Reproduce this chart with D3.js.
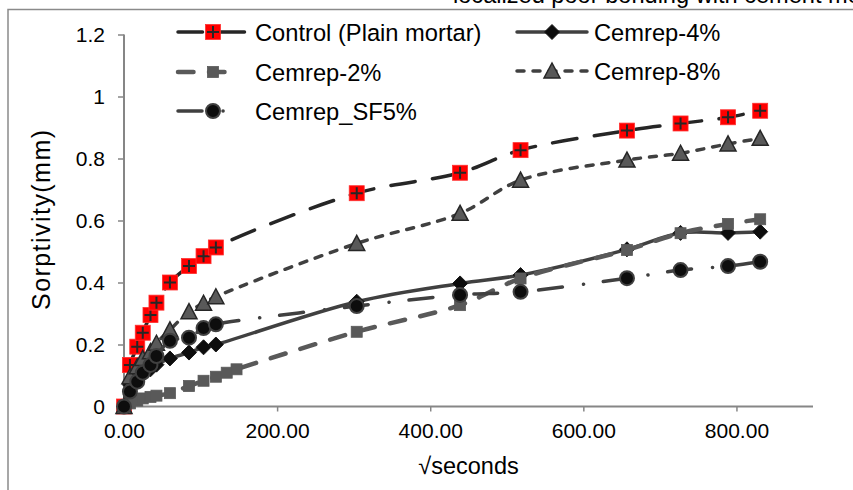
<!DOCTYPE html>
<html>
<head>
<meta charset="utf-8">
<script src="https://cdn.jsdelivr.net/npm/d3@7"></script>
<style>
  body { margin: 0; background: #fff; }
  svg { display: block; font-family: "Liberation Sans", Arial, sans-serif; }
</style>
</head>
<body>
<div class="chart"></div>
<script>
// sqrt(seconds) readings
var tMain = [0, 7.75, 17.3, 24.5, 34.6, 42.4, 60, 84.9, 103.9, 120, 304, 439, 518, 657, 727, 789, 831];
var t2 = [0, 7.75, 17.3, 24.5, 34.6, 42.4, 60, 84.9, 103.9, 120, 134.2, 147, 304, 439, 518, 657, 727, 789, 831];

var control = [0, 0.134, 0.193, 0.238, 0.295, 0.335, 0.40, 0.453, 0.485, 0.513, 0.688, 0.754, 0.827, 0.89, 0.913, 0.933, 0.954];
var cem4 = [0, 0.07, 0.09, 0.105, 0.12, 0.135, 0.155, 0.174, 0.191, 0.2, 0.338, 0.397, 0.424, 0.507, 0.56, 0.56, 0.564];
var cem2 = [0, 0.01, 0.019, 0.026, 0.031, 0.035, 0.043, 0.066, 0.083, 0.096, 0.109, 0.12, 0.241, 0.327, 0.413, 0.505, 0.559, 0.589, 0.604];
var cem8 = [0, 0.096, 0.128, 0.155, 0.177, 0.204, 0.247, 0.306, 0.333, 0.354, 0.526, 0.623, 0.73, 0.795, 0.817, 0.847, 0.865];
var sf5 = [0, 0.048, 0.08, 0.109, 0.134, 0.163, 0.212, 0.222, 0.253, 0.265, 0.324, 0.36, 0.37, 0.414, 0.44, 0.453, 0.467];

var xTicks = [0, 200, 400, 600, 800];
var yTicks = [0, 0.2, 0.4, 0.6, 0.8, 1, 1.2];

var width = 853, height = 490;

var x = d3.scaleLinear().domain([0, 900]).range([124, 813]);
var y = d3.scaleLinear().domain([0, 1.2]).range([406.5, 34.5]);

var svg = d3.select('.chart').append('svg')
    .attr('width', width)
    .attr('height', height);

// clipped caption from the page above
svg.append('text')
    .attr('x', 453).attr('y', 3)
    .style('font-size', '23.6px')
    .text('localized poor bonding with cement mortar');

// outer chart border
svg.append('rect')
    .attr('x', 8).attr('y', 9.5)
    .attr('width', 900).attr('height', 600)
    .attr('fill', 'none')
    .attr('stroke', '#8a8a8a')
    .attr('stroke-width', 1.5);

// axes
var xAxis = d3.axisBottom(x).tickValues(xTicks).tickSize(5).tickPadding(12)
    .tickFormat(function (d) { return d.toFixed(2); });
var yAxis = d3.axisLeft(y).tickValues(yTicks).tickSize(6).tickPadding(13)
    .tickFormat(function (d) { return d3.format('~g')(d); });

var gx = svg.append('g').attr('transform', 'translate(0,' + y(0) + ')').call(xAxis);
var gy = svg.append('g').attr('transform', 'translate(' + x(0) + ',0)').call(yAxis);

[gx, gy].forEach(function (g) {
    g.select('.domain').attr('stroke', '#868686').attr('stroke-width', 2);
    g.selectAll('.tick line').attr('stroke', '#868686').attr('stroke-width', 1.5);
    g.selectAll('.tick text').attr('fill', '#000')
        .style('font-size', '21px')
        .style('font-family', '"Liberation Sans", Arial, sans-serif');
});
gx.select('.domain').attr('d', 'M' + x(0) + ',0H' + x(900));
gy.select('.domain').attr('d', 'M0,' + y(0) + 'V' + y(1.2));

// axis titles
svg.append('text')
    .attr('x', x(450)).attr('y', 474)
    .attr('text-anchor', 'middle')
    .style('font-size', '23.5px')
    .text('\u221Aseconds');

svg.append('text')
    .attr('transform', 'translate(50,220) rotate(-90)')
    .attr('text-anchor', 'middle')
    .attr('textLength', 180)
    .attr('lengthAdjust', 'spacing')
    .style('font-size', '25px')
    .text('Sorptivity(mm)');

// marker painters
function markSquareRed(g, px, py) {
    g.append('rect').attr('x', px - 7.5).attr('y', py - 7.5)
        .attr('width', 15).attr('height', 15)
        .attr('fill', '#ff0000').attr('stroke', '#ff3030').attr('stroke-width', 0.8);
    g.append('path').attr('d', 'M' + (px - 6) + ',' + py + 'H' + (px + 6) + 'M' + px + ',' + (py - 6) + 'V' + (py + 6))
        .attr('stroke', '#262626').attr('stroke-width', 2);
}
function markDiamond(g, px, py) {
    g.append('path').attr('d', 'M' + px + ',' + (py - 7.5) + 'L' + (px + 7.5) + ',' + py + 'L' + px + ',' + (py + 7.5) + 'L' + (px - 7.5) + ',' + py + 'Z')
        .attr('fill', '#0d0d0d').attr('stroke', '#1a1a1a').attr('stroke-width', 1);
}
function markSquareGray(g, px, py) {
    g.append('rect').attr('x', px - 5.5).attr('y', py - 5.5)
        .attr('width', 11).attr('height', 11)
        .attr('fill', '#595959').attr('stroke', '#595959').attr('stroke-width', 0.8);
}
function markTriangle(g, px, py) {
    g.append('path').attr('d', 'M' + (px - 8) + ',' + (py + 7) + 'L' + (px + 8) + ',' + (py + 7) + 'L' + px + ',' + (py - 8) + 'Z')
        .attr('fill', '#595959').attr('stroke', '#262626').attr('stroke-width', 1.5)
        .attr('stroke-linejoin', 'miter');
}
function markCircle(g, px, py) {
    g.append('circle').attr('cx', px).attr('cy', py).attr('r', 7)
        .attr('fill', '#0d0d0d').attr('stroke', '#404040').attr('stroke-width', 2);
}

var series = [
    { name: 'Control (Plain mortar)', xs: tMain, ys: control, color: '#262626', w: 3.5, dash: '24.5,17.5', mark: markSquareRed, legLen: 70 },
    { name: 'Cemrep-4%', xs: tMain, ys: cem4, color: '#404040', w: 3.5, dash: null, mark: markDiamond, legLen: 70 },
    { name: 'Cemrep-2%', xs: t2, ys: cem2, color: '#595959', w: 4.5, dash: '15.5,15.5', mark: markSquareGray, legLen: 58 },
    { name: 'Cemrep-8%', xs: tMain, ys: cem8, color: '#404040', w: 3.5, dash: '7,9', mark: markTriangle, legLen: 70 },
    { name: 'Cemrep_SF5%', xs: tMain, ys: sf5, color: '#404040', w: 3.5, dash: '24,21,0.1,20', mark: markCircle, legLen: 56 }
];

var line = d3.line()
    .x(function (d) { return x(d[0]); })
    .y(function (d) { return y(d[1]); })
    .curve(d3.curveCatmullRom.alpha(0.5));

series.forEach(function (s) {
    var pts = s.xs.map(function (v, i) { return [v, s.ys[i]]; });
    var g = svg.append('g');
    g.append('path')
        .attr('d', line(pts))
        .attr('fill', 'none')
        .attr('stroke', s.color)
        .attr('stroke-width', s.w)
        .attr('stroke-linecap', 'round')
        .attr('stroke-dasharray', s.dash);
    pts.forEach(function (p) { s.mark(g, x(p[0]), y(p[1])); });
});

// legend
var legendPos = [[178, 32], [517, 32], [178, 72], [517, 71], [178, 111]];
series.forEach(function (s, i) {
    var lx = legendPos[i][0], ly = legendPos[i][1];
    var g = svg.append('g');
    g.append('path')
        .attr('d', 'M' + lx + ',' + ly + 'H' + (lx + s.legLen))
        .attr('stroke', s.color)
        .attr('stroke-width', s.w)
        .attr('stroke-linecap', 'round')
        .attr('stroke-dasharray', s.dash);
    s.mark(g, lx + 35, ly);
    g.append('text')
        .attr('x', lx + 77).attr('y', ly + 8.5)
        .style('font-size', '23.7px')
        .text(s.name);
});
</script>
</body>
</html>
